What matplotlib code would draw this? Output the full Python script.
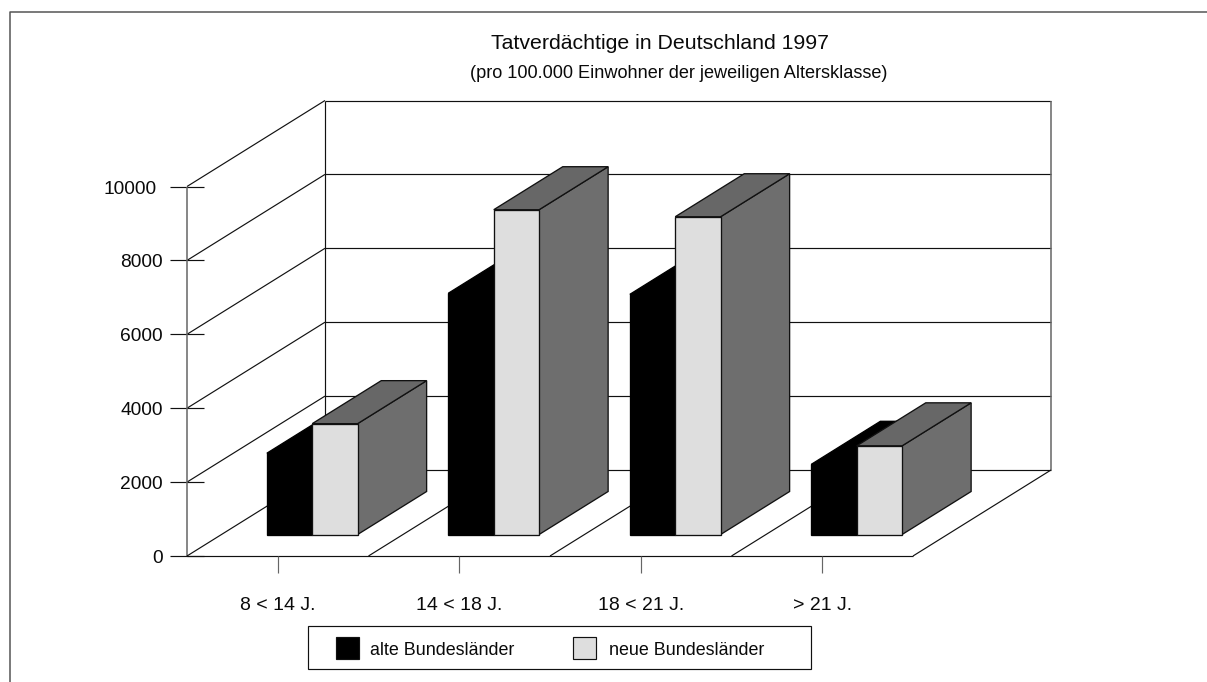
import matplotlib
matplotlib.use('Agg')
import matplotlib.pyplot as plt
from matplotlib.patches import Polygon, Rectangle

plt.rcParams['font.family'] = ['Liberation Sans', 'DejaVu Sans']

# data
categories = ['8 < 14 J.', '14 < 18 J.', '18 < 21 J.', '> 21 J.']
alte = [2200, 6530, 6500, 1900]
neue = [3000, 8790, 8600, 2400]
y_ticks = [0, 2000, 4000, 6000, 8000, 10000]
series_names = ['alte Bundesländer', 'neue Bundesländer']

BLACK = '#000000'
LIGHT = '#dedede'
SIDE = '#6e6e6e'
TOP = '#676767'
LINE = '#111111'
VLINE = '#666666'

# oblique projection, in pixels of the 1207x682 image
X0, Y0 = 187.0, 556.0
CAT_W = 181.5
PX_PER_UNIT = 369.5 / 10000
DEPTH_X, DEPTH_Y = 138.0, -86.0


def proj(cat, val, depth):
    return (X0 + cat * CAT_W + depth * DEPTH_X,
            Y0 - val * PX_PER_UNIT + depth * DEPTH_Y)


def line(ax, p, q, color=LINE, lw=0.85, z=1):
    ax.plot([p[0], q[0]], [p[1], q[1]], color=color, lw=lw, zorder=z,
            solid_capstyle='butt')


def box(ax, c0, c1, val, color, top_color, edge, z):
    d0, d1 = 0.25, 0.75
    front = [proj(c0, 0, d0), proj(c1, 0, d0), proj(c1, val, d0), proj(c0, val, d0)]
    side = [proj(c1, 0, d0), proj(c1, 0, d1), proj(c1, val, d1), proj(c1, val, d0)]
    top = [proj(c0, val, d0), proj(c1, val, d0), proj(c1, val, d1), proj(c0, val, d1)]
    for pts, col in ((side, SIDE), (top, top_color), (front, color)):
        ax.add_patch(Polygon(pts, closed=True, facecolor=col, edgecolor=edge,
                             lw=0.95, zorder=z, joinstyle='miter'))


fig = plt.figure(figsize=(12.07, 6.82), dpi=100)
ax = fig.add_axes([0, 0, 1, 1])
ax.set_xlim(0, 1207)
ax.set_ylim(682, 0)
ax.axis('off')

# outer frame, only top and left are in the picture
ax.plot([10, 10, 1207], [682, 11.5, 11.5], color='#555555', lw=1.1, zorder=1)

n = len(categories)

# walls and grid
for v in y_ticks:
    if v > 0:
        line(ax, proj(0, v, 0), proj(0, v, 1))
    line(ax, proj(0, v, 1), proj(n, v, 1))
    px, py = proj(0, v, 0)
    line(ax, (px - 17, py), (px + 17, py))
    # the five digit label sits a bit further left in the original
    ax.text(157 if v == 10000 else 163, py + 7, str(v), ha='right', va='baseline',
            fontsize=13.8, color='#0a0a0a')
line(ax, proj(0, 0, 0), proj(0, 10000, 0), color=VLINE, lw=1.1)
line(ax, proj(0, 0, 1), proj(0, 10000, 1))
line(ax, proj(n, 0, 1), proj(n, 10000, 1), color=VLINE, lw=1.1)

# floor
line(ax, proj(0, 0, 0), proj(n, 0, 0))
for i in range(n + 1):
    line(ax, proj(i, 0, 0), proj(i, 0, 1))

# bars and category labels
for i, cat in enumerate(categories):
    box(ax, i + 0.25, i + 0.5, alte[i], BLACK, BLACK, BLACK, 3 + 2 * i)
    box(ax, i + 0.5, i + 0.75, neue[i], LIGHT, TOP, LINE, 4 + 2 * i)
    px, py = proj(i + 0.5, 0, 0)
    line(ax, (px, py), (px, py + 17), color=VLINE)
    ax.text(px, 610, cat, ha='center', va='baseline', fontsize=14, color='#0a0a0a')

# title
ax.text(660, 49, 'Tatverdächtige in Deutschland 1997', ha='center', va='baseline',
        fontsize=15.3, color='#0a0a0a')
ax.text(679, 78, '(pro 100.000 Einwohner der jeweiligen Altersklasse)', ha='center',
        va='baseline', fontsize=13.1, color='#0a0a0a')

# legend
ax.add_patch(Rectangle((308, 626), 503, 43, facecolor='white', edgecolor=LINE, lw=0.85, zorder=2))
for x_box, x_txt, col, name in zip((336, 573), (370, 609), (BLACK, LIGHT), series_names):
    ax.add_patch(Rectangle((x_box, 637), 23, 22, facecolor=col, edgecolor=LINE, lw=0.85, zorder=3))
    ax.text(x_txt, 655, name, ha='left', va='baseline', fontsize=12.9, color='#0a0a0a', zorder=3)

fig.savefig('out.png', dpi=100)
